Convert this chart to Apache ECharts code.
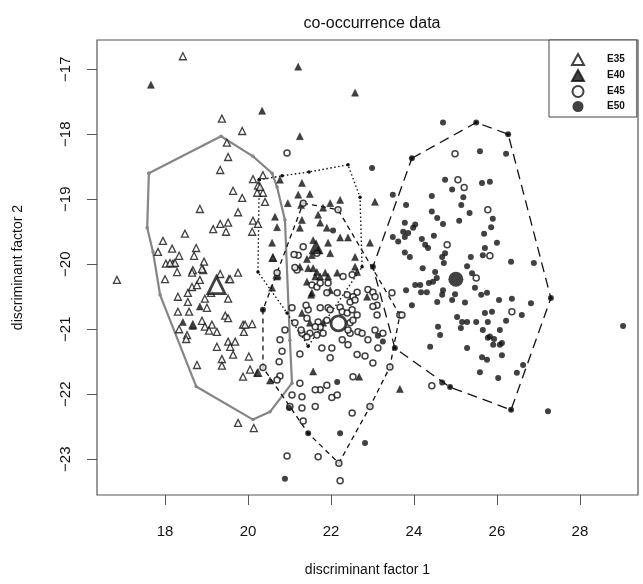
<!DOCTYPE html>
<html><head><meta charset="utf-8">
<script src="https://cdn.jsdelivr.net/npm/echarts@6/dist/echarts.min.js"></script>
<style>html,body{margin:0;padding:0;background:#fff}#c{width:643px;height:584px}</style>
</head><body><div id="c"></div><script>
const xTicks=[18,20,22,24,26,28];
const yTicks=[-23,-22,-21,-20,-19,-18,-17];
const groups=['E35','E40','E45','E50'];

const e35=[[18.43,-16.80],[19.37,-17.76],[19.86,-17.95],[19.49,-18.13],[19.52,-18.35],[19.33,-18.55],[19.64,-18.87],[19.86,-18.98],[18.84,-19.15],[19.76,-19.20],[19.33,-19.38],[19.52,-19.36],[19.47,-19.50],[19.16,-19.46],[18.48,-19.53],[17.95,-19.64],[18.17,-19.76],[18.75,-19.75],[17.83,-19.81],[18.34,-19.87],[18.70,-19.87],[20.12,-19.33],[20.24,-19.38],[20.10,-19.50],[20.24,-18.79],[20.36,-18.90],[20.41,-19.04],[20.12,-18.69],[18.94,-19.96],[18.02,-19.99],[18.19,-19.99],[18.29,-20.12],[18.67,-20.09],[18.92,-20.09],[18.00,-20.23],[18.65,-20.35],[18.77,-20.32],[18.84,-20.24],[19.11,-20.44],[19.54,-20.23],[19.76,-20.13],[19.33,-20.15],[18.31,-20.50],[18.55,-20.44],[18.55,-20.58],[18.96,-20.53],[19.52,-20.53],[18.31,-20.73],[18.58,-20.73],[19.01,-20.67],[18.89,-20.87],[19.13,-20.93],[18.96,-20.96],[19.06,-21.02],[19.25,-21.04],[19.45,-20.79],[19.52,-20.83],[19.88,-20.93],[19.90,-21.04],[20.10,-20.92],[18.34,-21.00],[18.53,-21.09],[18.51,-21.15],[18.67,-20.93],[19.52,-21.19],[19.57,-21.27],[19.69,-21.19],[19.64,-21.39],[19.25,-21.27],[19.37,-21.46],[19.37,-21.56],[18.77,-21.55],[19.88,-21.73],[20.05,-21.62],[20.02,-21.42],[20.24,-21.67],[19.76,-22.44],[20.14,-22.52],[16.84,-20.24],[18.24,-19.98],[20.22,-18.90],[20.36,-18.63],[20.60,-19.90],[20.70,-20.16],[18.65,-20.13],[19.57,-20.23],[20.29,-18.81],[18.12,-19.98],[18.89,-20.07],[19.93,-20.93]];

const e40=[[17.66,-17.24],[21.21,-16.96],[22.58,-17.36],[21.25,-18.03],[20.34,-17.64],[20.77,-18.70],[21.30,-18.75],[21.21,-18.93],[21.49,-18.92],[20.96,-19.06],[21.81,-19.13],[21.98,-19.06],[22.22,-19.01],[23.06,-19.04],[20.65,-19.27],[20.70,-19.43],[21.30,-19.32],[21.25,-19.44],[21.69,-19.24],[21.74,-19.36],[21.90,-19.44],[22.22,-19.59],[22.41,-19.59],[21.93,-19.67],[21.98,-19.83],[22.58,-19.89],[22.94,-19.67],[21.42,-19.92],[21.25,-20.04],[21.45,-20.06],[21.57,-20.06],[21.66,-20.12],[21.62,-20.19],[21.74,-20.19],[21.86,-20.13],[21.93,-20.19],[22.15,-20.13],[22.58,-20.04],[22.63,-20.12],[20.58,-20.36],[21.42,-20.27],[21.98,-20.40],[21.54,-20.44],[22.87,-20.50],[21.30,-20.75],[20.58,-19.67],[20.60,-19.90],[20.70,-20.19],[21.52,-20.47],[21.49,-20.90],[21.81,-20.90],[21.57,-21.65],[22.68,-21.73],[23.66,-21.92],[20.53,-21.79],[20.22,-21.67],[18.84,-20.65],[18.43,-20.89],[18.67,-20.95],[21.57,-19.63],[21.69,-19.78],[21.54,-19.86],[21.28,-19.09]];

const e45=[[20.94,-18.29],[21.33,-19.06],[22.17,-19.16],[21.33,-19.73],[21.21,-19.86],[21.66,-19.83],[21.18,-20.09],[22.29,-20.19],[22.51,-20.16],[21.54,-20.32],[21.66,-20.35],[21.74,-20.29],[21.90,-20.44],[22.15,-20.44],[22.63,-20.43],[22.53,-20.50],[22.39,-20.47],[22.89,-20.39],[23.01,-20.43],[23.06,-20.50],[23.47,-20.44],[23.11,-20.63],[23.66,-20.78],[21.06,-20.67],[21.45,-20.70],[21.74,-20.67],[21.93,-20.67],[22.22,-20.66],[22.27,-20.73],[21.42,-20.83],[21.69,-20.89],[21.90,-20.86],[22.39,-20.75],[22.51,-20.70],[22.63,-20.78],[23.11,-20.78],[22.46,-20.90],[22.65,-21.04],[22.46,-21.06],[21.74,-20.97],[21.49,-21.06],[21.66,-21.09],[21.30,-21.06],[21.13,-20.90],[20.89,-21.01],[23.06,-21.01],[23.25,-21.06],[21.93,-20.29],[21.40,-20.63],[21.98,-20.70],[22.46,-20.58],[22.58,-20.55],[21.28,-21.01],[21.62,-20.96],[22.41,-21.01],[22.75,-21.06],[22.53,-20.86],[21.42,-21.12],[21.81,-21.06],[23.01,-20.65],[22.53,-21.73],[21.90,-21.86],[21.74,-21.93],[21.62,-21.93],[21.25,-21.83],[21.06,-22.01],[21.30,-22.04],[22.02,-22.05],[22.15,-22.01],[21.62,-22.19],[21.30,-22.21],[21.33,-22.41],[22.51,-22.29],[20.94,-22.95],[21.69,-22.96],[22.19,-23.06],[21.25,-21.38],[21.78,-21.29],[22.02,-21.29],[21.98,-21.44],[22.63,-21.39],[22.82,-21.41],[23.01,-21.52],[23.13,-21.29],[22.89,-21.16],[22.41,-21.24],[22.27,-21.16],[20.77,-21.16],[20.82,-21.34],[20.75,-21.50],[20.77,-21.72],[20.70,-21.78],[20.36,-21.59],[22.22,-23.33],[21.11,-19.85],[21.13,-20.05],[24.99,-18.30],[25.06,-18.70],[25.21,-18.82],[25.78,-19.16],[24.80,-19.70],[25.83,-19.87],[25.50,-20.21],[23.71,-20.78],[26.36,-20.73],[24.43,-21.87],[20.70,-20.13],[23.42,-21.58],[22.94,-22.19],[21.01,-22.19]];

const e50=[[23.95,-18.37],[25.50,-17.82],[26.27,-18.00],[27.30,-20.52],[26.34,-22.24],[23.54,-21.29],[23.01,-20.04],[24.70,-17.82],[25.59,-18.26],[26.22,-18.30],[22.99,-18.52],[24.75,-18.70],[25.64,-18.75],[25.83,-18.73],[24.92,-18.85],[24.43,-18.95],[25.19,-18.97],[25.14,-19.09],[23.81,-19.09],[25.34,-19.21],[24.43,-19.19],[24.56,-19.29],[24.70,-19.38],[25.09,-19.33],[25.90,-19.30],[25.86,-19.43],[23.78,-19.36],[24.03,-19.39],[23.74,-19.50],[23.86,-19.52],[23.78,-19.58],[24.48,-19.56],[24.19,-19.61],[24.27,-19.70],[24.34,-19.75],[24.75,-19.83],[24.68,-19.89],[25.69,-19.53],[26.00,-19.67],[25.71,-19.75],[25.66,-19.86],[25.37,-19.89],[23.78,-19.82],[23.90,-19.89],[26.34,-19.96],[26.89,-19.98],[24.72,-19.98],[24.21,-20.06],[24.51,-20.12],[24.55,-20.21],[25.28,-20.03],[25.40,-20.14],[24.15,-20.32],[24.36,-20.29],[23.81,-20.40],[24.17,-20.43],[24.31,-20.43],[24.70,-20.40],[24.68,-20.47],[24.56,-20.58],[23.95,-20.63],[24.99,-20.46],[24.92,-20.55],[25.23,-20.59],[25.47,-20.36],[25.62,-20.47],[25.76,-20.44],[26.05,-20.55],[26.36,-20.53],[26.82,-20.60],[25.04,-20.81],[25.16,-20.89],[25.28,-20.89],[25.50,-20.89],[25.71,-20.75],[25.88,-20.73],[25.78,-20.89],[26.22,-20.87],[26.60,-20.78],[24.58,-20.96],[23.98,-19.44],[23.49,-19.58],[23.62,-19.65],[24.03,-20.32],[23.49,-18.93],[24.46,-20.27],[25.13,-20.98],[24.63,-21.09],[24.39,-21.27],[25.28,-21.29],[25.78,-21.13],[25.91,-21.24],[26.07,-21.24],[26.12,-21.40],[25.64,-21.43],[25.76,-21.47],[25.59,-21.66],[26.03,-21.75],[26.48,-21.67],[24.68,-21.82],[24.87,-21.89],[26.07,-21.01],[25.83,-21.11],[25.93,-21.15],[26.12,-21.21],[26.63,-21.55],[29.04,-20.95],[27.23,-22.26],[25.66,-21.01],[22.15,-21.81],[22.22,-22.60],[22.82,-22.75],[21.45,-22.60],[20.99,-22.21],[20.89,-23.30],[23.25,-21.19],[23.13,-21.10],[20.36,-20.70],[22.05,-19.48]];

const hull35=[[17.61,-18.60],[19.35,-18.03],[20.12,-18.34],[20.58,-18.60],[20.70,-18.81],[20.89,-19.32],[21.01,-21.17],[21.06,-21.83],[20.53,-22.27],[20.12,-22.39],[18.75,-21.88],[17.88,-20.47],[17.71,-19.81],[17.57,-19.44],[17.61,-18.60]];
const hull40=[[20.27,-18.70],[20.82,-18.64],[21.47,-18.58],[22.41,-18.47],[22.70,-18.97],[22.75,-20.04],[21.45,-21.26],[20.94,-20.75],[20.24,-20.12],[20.27,-18.70]];
const hull45=[[21.33,-19.06],[22.17,-19.16],[23.66,-20.78],[23.42,-21.58],[22.94,-22.19],[22.19,-23.06],[21.45,-22.60],[21.01,-22.19],[20.36,-21.59],[20.36,-20.70],[20.70,-20.13],[21.33,-19.06]];
const hull50=[[23.95,-18.37],[25.50,-17.82],[26.27,-18.00],[27.30,-20.52],[26.34,-22.24],[24.87,-21.89],[23.54,-21.29],[23.01,-20.04],[23.95,-18.37]];

const centroids=[[19.24,-20.32],[21.64,-19.73],[22.18,-20.91],[25.01,-20.23]];

const FONT='"Liberation Sans", Arial, Helvetica, sans-serif';
const INK='#111';
const styles=[
  {symbol:'triangle',size:7,item:{color:'#fff',borderColor:INK,borderWidth:1.3},big:17,bigItem:{color:'#fff',borderColor:INK,borderWidth:2.8}},
  {symbol:'triangle',size:7,item:{color:INK,borderColor:INK,borderWidth:0.5},big:15,bigItem:{color:INK}},
  {symbol:'circle',size:6,item:{color:'#fff',borderColor:INK,borderWidth:1.5},big:15,bigItem:{color:'#fff',borderColor:INK,borderWidth:2.8}},
  {symbol:'circle',size:6,item:{color:INK},big:15,bigItem:{color:INK}}
];
const hullLines=[
  {data:hull35,line:{color:'#858585',width:2.2,type:'solid'},sym:{color:'#858585'}},
  {data:hull40,line:{color:INK,width:1.4,type:[1.5,2.5]},sym:{color:INK}},
  {data:hull45,line:{color:INK,width:1.3,type:[5,4]},sym:{color:INK}},
  {data:hull50,line:{color:INK,width:1.3,type:[10,6]},sym:{color:INK}}
];
const pts=[e35,e40,e45,e50];
const series=[];
hullLines.forEach((h,i)=>{
  series.push({type:'line',name:'hull '+groups[i],data:h.data,showSymbol:true,symbol:'circle',symbolSize:3.5,
    itemStyle:h.sym,lineStyle:h.line,z:2,silent:true});
});
pts.forEach((p,i)=>{
  series.push({type:'scatter',name:groups[i],data:p,symbol:styles[i].symbol,symbolSize:styles[i].size,
    itemStyle:styles[i].item,z:3});
});
centroids.forEach((c,i)=>{
  series.push({type:'scatter',name:'mean '+groups[i],data:[c],symbol:styles[i].symbol,symbolSize:styles[i].big,
    itemStyle:styles[i].bigItem,z:4});
});

const chart=echarts.init(document.getElementById('c'));
chart.setOption({
  animation:false,
  backgroundColor:'#fff',
  textStyle:{fontFamily:FONT},
  title:{text:'co-occurrence data',left:367,top:11,textAlign:'center',
    textStyle:{fontFamily:FONT,fontSize:16,fontWeight:'normal',color:INK}},
  legend:{data:groups,orient:'vertical',left:549,top:40,itemWidth:12,itemHeight:11,itemGap:3,
    padding:[13,12,5,22],borderColor:'#444',borderWidth:1,backgroundColor:'#fff',
    textStyle:{fontFamily:FONT,fontSize:10,fontWeight:'bold',color:INK,padding:[0,0,0,18]}},
  grid:{left:97,right:5,top:40,bottom:89,show:true,borderColor:'#555',borderWidth:1.2,backgroundColor:'transparent'},
  xAxis:{type:'value',min:16.36,max:29.40,
    name:'discriminant factor 1',nameLocation:'middle',nameGap:68,
    nameTextStyle:{fontFamily:FONT,fontSize:14,color:INK},
    axisLine:{show:false},splitLine:{show:false},
    axisTick:{show:true,length:10,customValues:xTicks,lineStyle:{color:'#555'}},
    axisLabel:{customValues:xTicks,margin:29,fontFamily:FONT,fontSize:15,color:INK}},
  yAxis:{type:'value',min:-23.55,max:-16.55,
    name:'discriminant factor 2',nameLocation:'middle',nameGap:72,nameRotate:90,
    nameTextStyle:{fontFamily:FONT,fontSize:14,color:INK},
    axisLine:{show:false},splitLine:{show:false},
    axisTick:{show:true,length:10,customValues:yTicks,lineStyle:{color:'#555'}},
    axisLabel:{customValues:yTicks,rotate:90,margin:24,fontFamily:FONT,fontSize:15,color:INK,
      formatter:v=>(v<0?'\u2212':'')+Math.abs(v)}},
  series:series
});
</script></body></html>
